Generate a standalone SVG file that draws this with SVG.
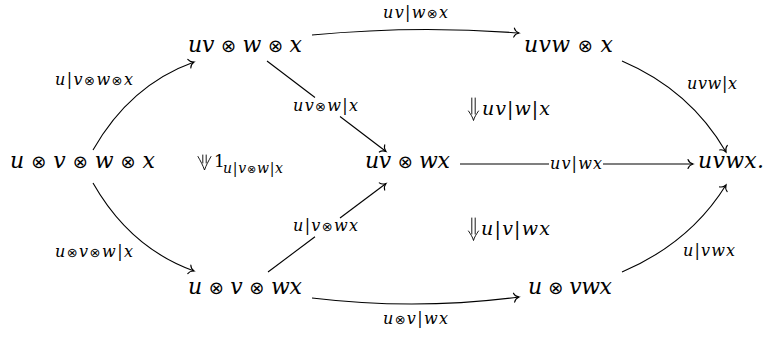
<svg xmlns="http://www.w3.org/2000/svg" width="767" height="338" viewBox="0 0 767 338">
<defs>
<style>
text { font-family: "DejaVu Serif", "Liberation Serif", serif; font-style: italic; fill: #000; }
.n { font-size: 22px; }
.l { font-size: 16px; }
.m { font-size: 19px; }
.o { font-family: "DejaVu Sans", sans-serif; font-style: normal; }
.up { font-style: normal; }
.e { fill: none; stroke: #000; stroke-width: 1.1; }
.c { fill: none; stroke: #000; stroke-width: 0.9; stroke-linecap: round; }
</style>
<marker id="ah" viewBox="-7 -6 9 12" markerWidth="9" markerHeight="12" refX="0" refY="0" orient="auto" markerUnits="userSpaceOnUse">
<path d="M-5,-4.5 C-4.2,-2 -1.6,-0.5 0,0 C-1.6,0.5 -4.2,2 -5,4.5" fill="none" stroke="#000" stroke-width="1.1" stroke-linecap="round"/>
</marker>
</defs>
<rect width="767" height="338" fill="#fff"/>
<g id="connectors">
<path class="e" d="M93,150 Q130,85 194,62" marker-end="url(#ah)"/>
<path class="e" d="M93,183 Q130,248 194,271" marker-end="url(#ah)"/>
<path class="e" d="M312,35 Q416,25 519,33" marker-end="url(#ah)"/>
<path class="e" d="M312,298 Q416,310.5 519,297" marker-end="url(#ah)"/>
<path class="e" d="M622,61 Q690,90 726,152" marker-end="url(#ah)"/>
<path class="e" d="M622,272 Q690,243 726,185" marker-end="url(#ah)"/>
<path class="e" d="M267,61 L315,97.5"/>
<path class="e" d="M340,116.5 L386,151.5" marker-end="url(#ah)"/>
<path class="e" d="M268,272 L315,236.8"/>
<path class="e" d="M340,218 L386,183.5" marker-end="url(#ah)"/>
<path class="e" d="M460,164 L549,164"/>
<path class="e" d="M603,164 L693,164" marker-end="url(#ah)"/>
</g>
<g id="two-cell-arrows">
<path class="c" d="M471.8,98 V114 M475.2,98 V114 M468.5,111 C470.8,114.5 472.6,117 473.5,120.5 C474.4,117 476.2,114.5 478.5,111"/>
<path class="c" d="M471.8,218 V234 M475.2,218 V234 M468.5,231 C470.8,234.5 472.6,237 473.5,240.5 C474.4,237 476.2,234.5 478.5,231"/>
<path class="c" d="M202.8,155 V163 M206.2,155 V163 M198,156.5 C200.5,161 203,165.5 204.5,170 C206,165.5 208.5,161 211,156.5"/>
</g>
<g id="node-uvwx4">
<text class="n" x="10" y="168" textLength="145" lengthAdjust="spacing">u <tspan class="o" font-size="18">⊗</tspan> v <tspan class="o" font-size="18">⊗</tspan> w <tspan class="o" font-size="18">⊗</tspan> x</text>
</g>
<g id="node-uv-w-x">
<text class="n" x="188" y="52" textLength="114" lengthAdjust="spacing">uv <tspan class="o" font-size="18">⊗</tspan> w <tspan class="o" font-size="18">⊗</tspan> x</text>
</g>
<g id="node-uvw-x">
<text class="n" x="524" y="52" textLength="89" lengthAdjust="spacing">uvw <tspan class="o" font-size="18">⊗</tspan> x</text>
</g>
<g id="node-uv-wx">
<text class="n" x="365" y="168" textLength="85" lengthAdjust="spacing">uv <tspan class="o" font-size="18">⊗</tspan> wx</text>
</g>
<g id="node-uvwx">
<text class="n" x="698" y="168" textLength="66" lengthAdjust="spacing">uvwx.</text>
</g>
<g id="node-u-v-wx">
<text class="n" x="188" y="294" textLength="114" lengthAdjust="spacing">u <tspan class="o" font-size="18">⊗</tspan> v <tspan class="o" font-size="18">⊗</tspan> wx</text>
</g>
<g id="node-u-vwx">
<text class="n" x="528" y="294" textLength="84" lengthAdjust="spacing">u <tspan class="o" font-size="18">⊗</tspan> vwx</text>
</g>
<g id="labels">
<text class="l" x="55" y="85" textLength="78" lengthAdjust="spacing">u|v<tspan class="o" font-size="13">⊗</tspan>w<tspan class="o" font-size="13">⊗</tspan>x</text>
<text class="l" x="293" y="111" textLength="65" lengthAdjust="spacing">uv<tspan class="o" font-size="13">⊗</tspan>w|x</text>
<text class="l" x="383" y="18" textLength="65" lengthAdjust="spacing">uv|w<tspan class="o" font-size="13">⊗</tspan>x</text>
<text class="l" x="687" y="89" textLength="50" lengthAdjust="spacing">uvw|x</text>
<text class="l" x="550" y="169" textLength="52" lengthAdjust="spacing">uv|wx</text>
<text class="l" x="293" y="231" textLength="65" lengthAdjust="spacing">u|v<tspan class="o" font-size="13">⊗</tspan>wx</text>
<text class="l" x="55" y="257" textLength="78" lengthAdjust="spacing">u<tspan class="o" font-size="13">⊗</tspan>v<tspan class="o" font-size="13">⊗</tspan>w|x</text>
<text class="l" x="683" y="256" textLength="52" lengthAdjust="spacing">u|vwx</text>
<text class="l" x="383" y="324" textLength="65" lengthAdjust="spacing">u<tspan class="o" font-size="13">⊗</tspan>v|wx</text>
<text class="m" x="482" y="115" textLength="68" lengthAdjust="spacing">uv|w|x</text>
<text class="m" x="481" y="235" textLength="69" lengthAdjust="spacing">u|v|wx</text>
<text class="up" x="214" y="167" font-size="17">1</text>
<text font-size="14" x="223" y="173" textLength="60" lengthAdjust="spacing">u|v<tspan class="o" font-size="11">⊗</tspan>w|x</text>
</g>
</svg>
